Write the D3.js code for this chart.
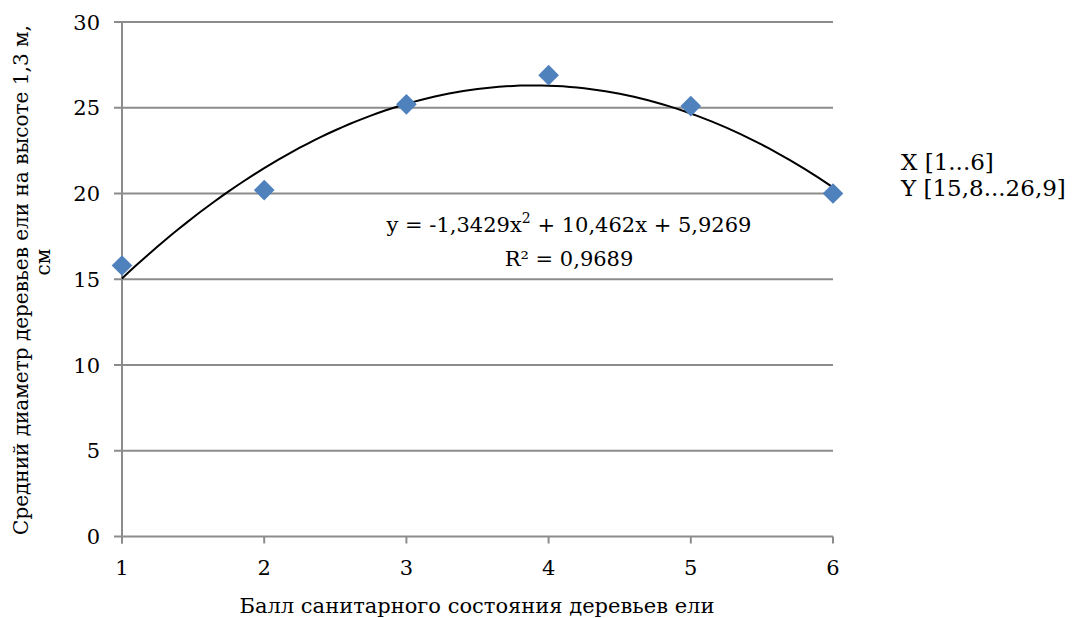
<!DOCTYPE html>
<html>
<head>
<meta charset="utf-8">
<script src="https://cdn.jsdelivr.net/npm/d3@7"></script>
<style>
  body { margin: 0; background: #fff; }
</style>
</head>
<body>
<svg id="chart" width="1084" height="618"></svg>
<script>
const scores = [1, 2, 3, 4, 5, 6];
const diameters = [15.8, 20.2, 25.2, 26.9, 25.1, 20.0];
const yTicks = [0, 5, 10, 15, 20, 25, 30];
// polynomial trend coefficients as printed on the chart (c0, c1, c2)
const trendCoefs = [5.9269, 10.462, -1.3429];
const equationLines = ["y = -1,3429x", "R² = 0,9689"];
const legendLines = ["X [1...6]", "Y [15,8...26,9]"];

const serif = "'DejaVu Serif', 'Noto Serif', serif";

const svg = d3.select("#chart");
const margin = { top: 22, left: 122 };
const innerWidth = 711;
const innerHeight = 514.5;

const x = d3.scaleLinear().domain([1, 6]).range([0, innerWidth]);
const y = d3.scaleLinear().domain([0, 30]).range([innerHeight, 0]);

const chart = svg
  .append("g")
  .attr("transform", `translate(${margin.left},${margin.top})`);

// horizontal grid + left tick marks
chart
  .append("g")
  .selectAll("line")
  .data(yTicks)
  .join("line")
  .attr("x1", -8)
  .attr("x2", innerWidth)
  .attr("y1", (d) => y(d))
  .attr("y2", (d) => y(d))
  .attr("stroke", "#8c8c8c")
  .attr("stroke-width", 2);

// left axis line
chart
  .append("line")
  .attr("x1", 0)
  .attr("x2", 0)
  .attr("y1", 0)
  .attr("y2", innerHeight + 7)
  .attr("stroke", "#8c8c8c")
  .attr("stroke-width", 2);

// bottom tick marks
chart
  .append("g")
  .selectAll("line")
  .data(scores)
  .join("line")
  .attr("x1", (d) => x(d))
  .attr("x2", (d) => x(d))
  .attr("y1", innerHeight)
  .attr("y2", innerHeight + 7)
  .attr("stroke", "#8c8c8c")
  .attr("stroke-width", 2);

// y tick labels
chart
  .append("g")
  .selectAll("text")
  .data(yTicks)
  .join("text")
  .attr("x", -22)
  .attr("y", (d) => y(d))
  .attr("dy", "0.36em")
  .attr("text-anchor", "end")
  .style("font-family", serif)
  .style("font-size", "21px")
  .text((d) => d);

// x tick labels
chart
  .append("g")
  .selectAll("text")
  .data(scores)
  .join("text")
  .attr("x", (d) => x(d))
  .attr("y", innerHeight + 38)
  .attr("text-anchor", "middle")
  .style("font-family", serif)
  .style("font-size", "21px")
  .text((d) => d);

// trendline
const trendX = d3.range(1, 6.001, 0.05);
const poly = (v) => trendCoefs[0] + trendCoefs[1] * v + trendCoefs[2] * v * v;
chart
  .append("path")
  .datum(trendX)
  .attr("fill", "none")
  .attr("stroke", "#000")
  .attr("stroke-width", 2)
  .attr("d", d3.line().x((d) => x(d)).y((d) => y(poly(d))));

// points
const diamond = d3.symbol(d3.symbolSquare, 214);
chart
  .append("g")
  .selectAll("path")
  .data(scores.map((s, i) => ({ s, v: diameters[i] })))
  .join("path")
  .attr("d", diamond)
  .attr("transform", (d) => `translate(${x(d.s)},${y(d.v)}) rotate(45)`)
  .attr("fill", "#4f81bd");

// equation
const eq = svg
  .append("text")
  .attr("x", 569)
  .attr("y", 232)
  .attr("text-anchor", "middle")
  .style("font-family", serif)
  .style("font-size", "21px");
eq.append("tspan").text(equationLines[0]);
eq.append("tspan").attr("dy", -9).style("font-size", "14px").text("2");
eq.append("tspan").attr("dy", 9).text(" + 10,462x + 5,9269");

svg
  .append("text")
  .attr("x", 569)
  .attr("y", 266)
  .attr("text-anchor", "middle")
  .style("font-family", serif)
  .style("font-size", "21px")
  .text(equationLines[1]);

// legend-like labels
svg
  .append("g")
  .selectAll("text")
  .data(legendLines)
  .join("text")
  .attr("x", 901)
  .attr("y", (d, i) => 170 + i * 26)
  .style("font-family", serif)
  .style("font-size", "23px")
  .text((d) => d);

// axis titles
svg
  .append("text")
  .attr("x", 477)
  .attr("y", 613)
  .attr("text-anchor", "middle")
  .style("font-family", serif)
  .style("font-size", "21px")
  .text("Балл санитарного состояния деревьев ели");

const yTitle = svg
  .append("text")
  .attr("transform", "translate(28,280) rotate(-90)")
  .attr("text-anchor", "middle")
  .style("font-family", serif)
  .style("font-size", "20px");
yTitle.append("tspan").attr("x", 0).attr("y", 0).text("Средний диаметр деревьев ели на высоте 1,3 м,");
yTitle.append("tspan").attr("x", 18).attr("y", 22).text("см");
</script>
</body>
</html>
